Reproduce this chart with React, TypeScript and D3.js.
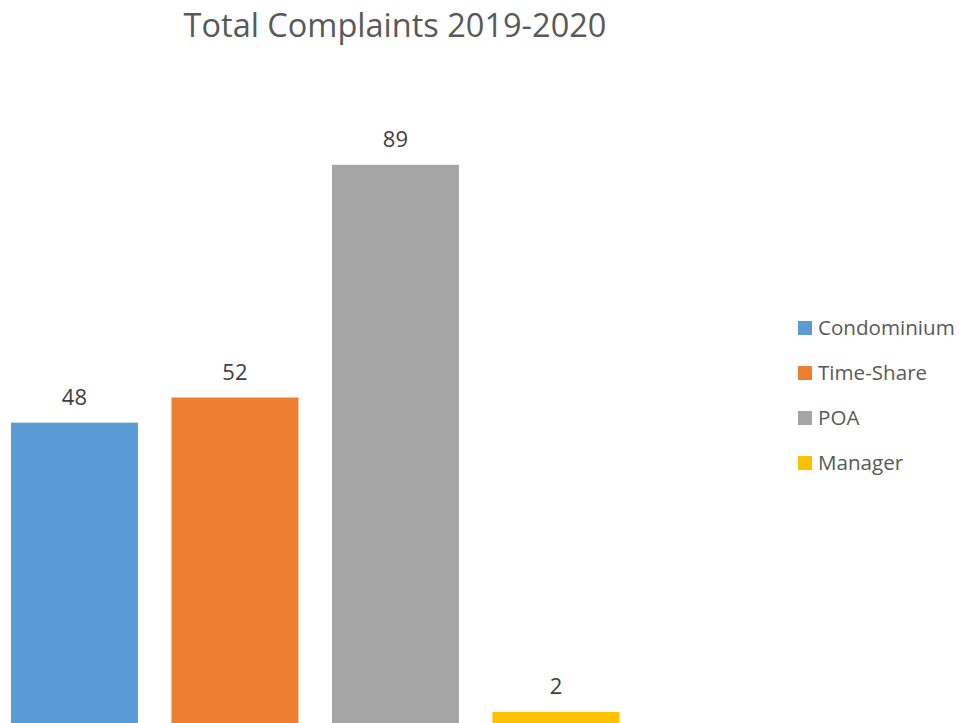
import React, { useRef, useEffect } from 'react';
import * as d3 from 'd3';

// chart data
const categories = ['Condominium', 'Time-Share', 'POA', 'Manager'];
const totals = [48, 52, 89, 2];
const colors = ['#5B9BD5', '#ED7D31', '#A5A5A5', '#FFC000'];
const chartTitle = 'Total Complaints 2019-2020';

const WIDTH = 960;
const HEIGHT = 723;

/**
 * Total complaints bar chart, one bar per association type,
 * value labels above bars and a legend on the right.
 */
const App = () => {
  const svgRef = useRef<SVGSVGElement>(null);

  useEffect(() => {
    const svg = d3.select(svgRef.current);
    svg.selectAll('*').remove();

    const font = "'Open Sans', 'Liberation Sans', sans-serif";

    const x = d3.scaleBand()
      .domain(categories)
      .range([-5.8, 636.2])
      .paddingInner(0.209)
      .paddingOuter(0.1045);

    // axis max 100 like the auto scale, bottom cut off at the frame edge
    const y = d3.scaleLinear()
      .domain([0, 100])
      .range([724.6, 95.6]);

    const data = categories.map((c, i) => ({ name: c, value: totals[i], color: colors[i] }));

    // title
    svg.append('text')
      .attr('x', 395)
      .attr('y', 37)
      .attr('text-anchor', 'middle')
      .style('font-family', font)
      .style('font-size', '32.5px')
      .style('fill', '#595959')
      .text(chartTitle);

    // bars
    svg.append('g')
      .selectAll('rect')
      .data(data)
      .join('rect')
      .attr('x', d => x(d.name))
      .attr('y', d => y(d.value))
      .attr('width', x.bandwidth())
      .attr('height', d => y(0) - y(d.value))
      .attr('fill', d => d.color);

    // value labels
    svg.append('g')
      .selectAll('text')
      .data(data)
      .join('text')
      .attr('x', d => x(d.name) + x.bandwidth() / 2)
      .attr('y', d => y(d.value) - 18)
      .attr('text-anchor', 'middle')
      .style('font-family', font)
      .style('font-size', '22px')
      .style('fill', '#404040')
      .text(d => d.value);

    // legend
    const legend = svg.append('g')
      .selectAll('g')
      .data(data)
      .join('g')
      .attr('transform', (d, i) => `translate(798,${321 + i * 45})`);

    legend.append('rect')
      .attr('width', 14)
      .attr('height', 14)
      .attr('fill', d => d.color);

    legend.append('text')
      .attr('x', 20)
      .attr('y', 14)
      .style('font-family', font)
      .style('font-size', '20.6px')
      .style('fill', '#595959')
      .text(d => d.name);
  }, []);

  return (
    <svg
      ref={svgRef}
      width={WIDTH}
      height={HEIGHT}
      style={{ position: 'absolute', left: 0, top: 0, background: '#fff', display: 'block' }}
    />
  );
};

export default App;
